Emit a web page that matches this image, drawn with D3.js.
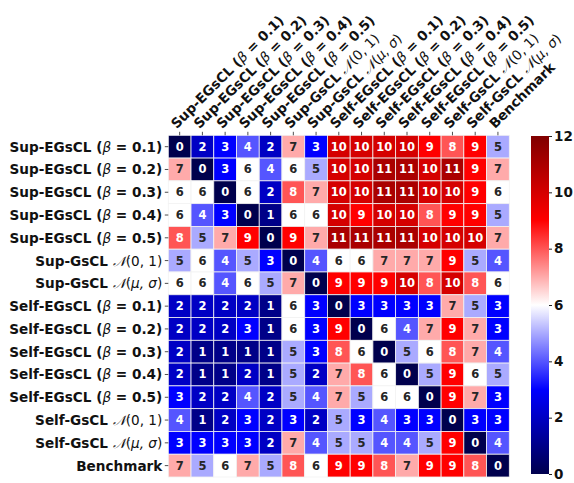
<!DOCTYPE html>
<html><head><meta charset="utf-8">
<script src="https://cdn.jsdelivr.net/npm/d3@7"></script>
<style>
body{margin:0;background:#fff;}
text{font-family:"DejaVu Sans",sans-serif;}
</style></head>
<body><svg id="c" width="574" height="483"></svg>
<script>
const labels = [
 ["Sup-EGsCL", "b", "0.1"], ["Sup-EGsCL", "b", "0.2"], ["Sup-EGsCL", "b", "0.3"], ["Sup-EGsCL", "b", "0.4"], ["Sup-EGsCL", "b", "0.5"],
 ["Sup-GsCL", "n", "0, 1"], ["Sup-GsCL", "n", "μ, σ"],
 ["Self-EGsCL", "b", "0.1"], ["Self-EGsCL", "b", "0.2"], ["Self-EGsCL", "b", "0.3"], ["Self-EGsCL", "b", "0.4"], ["Self-EGsCL", "b", "0.5"],
 ["Self-GsCL", "n", "0, 1"], ["Self-GsCL", "n", "μ, σ"],
 ["Benchmark", "", ""]
];
const values = [
 [0,2,3,4,2,7,3,10,10,10,10,9,8,9,5],
 [7,0,3,6,4,6,5,10,10,11,11,10,11,9,7],
 [6,6,0,6,2,8,7,10,10,11,11,10,10,9,6],
 [6,4,3,0,1,6,6,10,9,10,10,8,9,9,5],
 [8,5,7,9,0,9,7,11,11,11,11,10,10,10,7],
 [5,6,4,5,3,0,4,6,6,7,7,7,9,5,4],
 [6,6,4,6,5,7,0,9,9,9,10,8,10,8,6],
 [2,2,2,2,1,6,3,0,3,3,3,3,7,5,3],
 [2,2,2,3,1,6,3,9,0,6,4,7,9,7,3],
 [2,1,1,1,1,5,3,8,6,0,5,6,8,7,4],
 [2,1,1,2,1,5,2,7,8,6,0,5,9,6,5],
 [3,2,2,4,2,5,4,7,5,6,6,0,9,7,3],
 [4,1,2,3,2,3,2,5,3,4,3,3,0,3,3],
 [3,3,3,3,2,7,4,5,5,4,4,5,9,0,4],
 [7,5,6,7,5,8,6,9,9,8,7,9,9,8,0]
];
const cbTicks = [0,2,4,6,8,10,12];

const svg = d3.select("#c");
const L=168.3, T=135.3, R=509.3, B=477;
const idx = d3.range(labels.length);
const x = d3.scaleBand().domain(idx).range([L,R]);
const y = d3.scaleBand().domain(idx).range([T,B]);
const color = d3.scaleLinear().domain([0,3,6,9,12])
  .range(["rgb(0,0,77)","rgb(0,0,255)","rgb(255,255,255)","rgb(255,0,0)","rgb(128,0,0)"]);

const cells = [];
values.forEach((row,i)=>row.forEach((v,j)=>cells.push({i,j,v})));
svg.append("g").selectAll("rect").data(cells).join("rect")
  .attr("x",d=>x(d.j)).attr("y",d=>y(d.i))
  .attr("width",x.bandwidth()).attr("height",y.bandwidth())
  .attr("fill",d=>color(d.v)).attr("stroke","#f2f2f2").attr("stroke-width",0.8);
svg.append("g").selectAll("text").data(cells).join("text")
  .attr("x",d=>x(d.j)+x.bandwidth()/2).attr("y",d=>y(d.i)+y.bandwidth()/2)
  .attr("text-anchor","middle").attr("dominant-baseline","central")
  .attr("font-size",11.5).attr("font-weight","bold")
  .attr("fill",d=>(d.v<5||d.v>7)?"#fff":"#262626")
  .text(d=>d.v);

function fillLabel(t, lab){
  t.append("tspan").attr("font-weight","bold").text(lab[0]+" ");
  if(lab[1]==="b"){
    t.append("tspan").attr("font-weight","bold").text("(");
    t.append("tspan").attr("font-style","italic").attr("font-family","DejaVu Sans").text("β");
    t.append("tspan").attr("font-weight","bold").text(" = "+lab[2]+")");
  } else if(lab[1]==="n"){
    t.append("tspan").attr("font-style","italic").attr("font-family","DejaVu Serif").text("𝒩");
    t.append("tspan").text("(");
    t.append("tspan").attr("font-style", lab[2]==="0, 1"?"normal":"italic").text(lab[2]);
    t.append("tspan").text(")");
  }
}

// y axis
const yg = svg.append("g");
idx.forEach(i=>{
  const cy = y(i)+y.bandwidth()/2;
  yg.append("line").attr("x1",L-3.5).attr("x2",L).attr("y1",cy).attr("y2",cy).attr("stroke","#222").attr("stroke-width",0.8);
  const t = yg.append("text").attr("x",L-6).attr("y",cy).attr("text-anchor","end")
    .attr("dominant-baseline","central").attr("font-size",13.6).attr("fill","#111");
  fillLabel(t, labels[i]);
});
// x axis
const xg = svg.append("g");
idx.forEach(j=>{
  const cx = x(j)+x.bandwidth()/2;
  xg.append("line").attr("x1",cx).attr("x2",cx).attr("y1",T-3.5).attr("y2",T).attr("stroke","#222").attr("stroke-width",0.8);
  const t = xg.append("text").attr("transform",`translate(${cx-3},${T-6}) rotate(-45)`)
    .attr("text-anchor","start").attr("font-size",13.6).attr("fill","#111");
  fillLabel(t, labels[j]);
});

// colorbar
const cbL=531, cbR=549, cbT=136, cbB=474;
const cy = d3.scaleLinear().domain([0,12]).range([cbB,cbT]);
const defs = svg.append("defs");
const grad = defs.append("linearGradient").attr("id","g").attr("x1",0).attr("y1",1).attr("x2",0).attr("y2",0);
[0,3,6,9,12].forEach(v=>grad.append("stop").attr("offset",v/12).attr("stop-color",color(v)));
svg.append("rect").attr("x",cbL).attr("y",cbT).attr("width",cbR-cbL).attr("height",cbB-cbT).attr("fill","url(#g)");
const ax = svg.append("g").attr("transform",`translate(${cbR},0)`)
  .call(d3.axisRight(cy).tickValues(cbTicks).tickSize(3).tickPadding(2));
ax.select(".domain").remove();
ax.selectAll("text").attr("font-size",13.5).attr("font-weight","bold").attr("font-family","DejaVu Sans").attr("fill","#111");
ax.selectAll("line").attr("stroke","#222");
</script></body></html>
